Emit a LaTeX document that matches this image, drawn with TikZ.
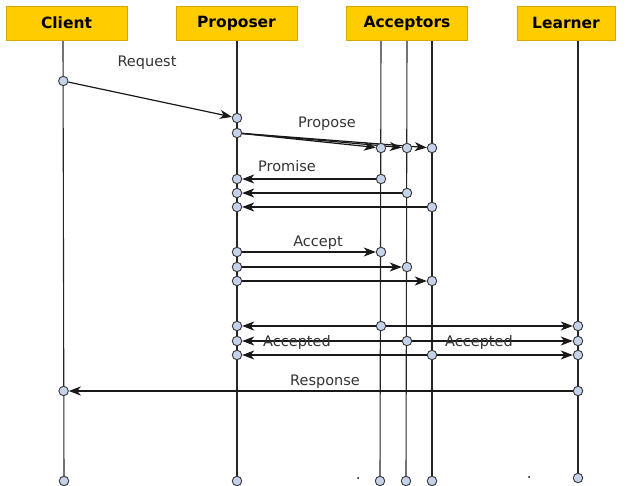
\documentclass[tikz,border=0pt]{standalone}
\usepackage{fontspec}
\setmainfont{DejaVu Sans}
\usetikzlibrary{arrows.meta,backgrounds}
\definecolor{boxfill}{HTML}{FFCC00}
\definecolor{boxline}{HTML}{D9A800}
\definecolor{dotfill}{HTML}{C4D2EA}
\definecolor{dotline}{HTML}{3A3A3A}
\tikzset{
 actor/.style={draw=boxline, fill=boxfill, minimum height=34pt, font=\fontsize{15.5}{18}\selectfont\bfseries, inner sep=0},
 pt/.style={circle, draw=dotline, fill=dotfill, line width=0.9pt, minimum size=9.5pt, inner sep=0},
 life/.style={line width=1.1pt, draw=black!85},
 msg/.style={line width=1.2pt, draw=black!90, -{Stealth[length=12pt,width=9pt,inset=3.5pt]}},
 lbl/.style={font=\fontsize{14.5}{17}\selectfont, text=black!80, inner sep=0, anchor=base},
 tick/.style={circle, fill=black, minimum size=2pt, inner sep=0},
}
\begin{document}
\begin{tikzpicture}[x=1pt,y=-1pt]
\useasboundingbox (0,0) rectangle (633,486);
% actors
\node[actor, minimum width=121pt] (client) at (66.5,23) {Client};
\node[actor, minimum width=121pt] (proposer) at (236.5,23) {Proposer};
\node[actor, minimum width=121pt] (acceptors) at (407,23) {Acceptors};
\node[actor, minimum width=98pt] (learner) at (566,23) {Learner};
% lifeline tops
\coordinate (ct) at (63,40);
\coordinate (pt0) at (237,40);
\coordinate (at1) at (381,40);
\coordinate (at2) at (407,40);
\coordinate (at3) at (432,40);
\coordinate (lt) at (578,40);
% bottom ends
\node[pt] (cb) at (64,481) {};
\node[pt] (pb) at (237,481) {};
\node[pt] (ab1) at (380,481) {};
\node[pt] (ab2) at (406,481) {};
\node[pt] (ab3) at (432,481) {};
\node[pt] (lb) at (578,478) {};
\node[tick] (d1) at (358,478) {};
\node[tick] (d2) at (529,477) {};
% request
\node[pt] (c1) at (63.3,81) {};
\node[pt] (p1) at (237,118) {};
% propose
\node[pt] (p2) at (237,133) {};
\node[pt] (pa1) at (381,148) {};
\node[pt] (pa2) at (407,148) {};
\node[pt] (pa3) at (432,148) {};
% promise
\node[pt] (pr1) at (381,179) {};
\node[pt] (pr2) at (407,193) {};
\node[pt] (pr3) at (432,207) {};
\node[pt] (pp1) at (237,179) {};
\node[pt] (pp2) at (237,193) {};
\node[pt] (pp3) at (237,207) {};
% accept
\node[pt] (pq1) at (237,252) {};
\node[pt] (pq2) at (237,267) {};
\node[pt] (pq3) at (237,281) {};
\node[pt] (aq1) at (381,252) {};
\node[pt] (aq2) at (407,267) {};
\node[pt] (aq3) at (432,281) {};
% accepted
\node[pt] (ad1) at (381,326) {};
\node[pt] (ad2) at (407,341) {};
\node[pt] (ad3) at (432,355) {};
\node[pt] (pd1) at (237,326) {};
\node[pt] (pd2) at (237,341) {};
\node[pt] (pd3) at (237,355) {};
\node[pt] (ld1) at (578,326) {};
\node[pt] (ld2) at (578,341) {};
\node[pt] (ld3) at (578,355) {};
% response
\node[pt] (lr) at (578,391) {};
\node[pt] (cr) at (63.6,391) {};
% labels (baseline positions)
\node[lbl] (lreq) at (147,66.5) {Request};
\node[lbl] (lprop) at (327,127.5) {Propose};
\node[lbl] (lprom) at (287,171.5) {Promise};
\node[lbl] (lacc) at (318,246.5) {Accept};
\node[lbl] (lad1) at (297,346.5) {Accepted};
\node[lbl] (lad2) at (479,346.5) {Accepted};
\node[lbl] (lresp) at (325,385.5) {Response};
\begin{scope}[on background layer]
 \draw[life] (ct) -- (cb.center);
 \draw[life] (pt0) -- (pb.center);
 \draw[life] (at1) -- (ab1.center);
 \draw[life] (at2) -- (ab2.center);
 \draw[life] (at3) -- (ab3.center);
 \draw[life] (lt) -- (lb.center);
 \draw[msg] (c1) -- (p1);
 \draw[msg] (p2) -- (pa1);
 \draw[msg] (p2) -- (pa2);
 \draw[msg] (p2) -- (pa3);
 \draw[msg] (pr1) -- (pp1);
 \draw[msg] (pr2) -- (pp2);
 \draw[msg] (pr3) -- (pp3);
 \draw[msg] (pq1) -- (aq1);
 \draw[msg] (pq2) -- (aq2);
 \draw[msg] (pq3) -- (aq3);
 \draw[msg] (ad1) -- (pd1);
 \draw[msg] (ad1) -- (ld1);
 \draw[msg] (ad2) -- (pd2);
 \draw[msg] (ad2) -- (ld2);
 \draw[msg] (ad3) -- (pd3);
 \draw[msg] (ad3) -- (ld3);
 \draw[msg] (lr) -- (cr);
\end{scope}
\end{tikzpicture}
\end{document}
